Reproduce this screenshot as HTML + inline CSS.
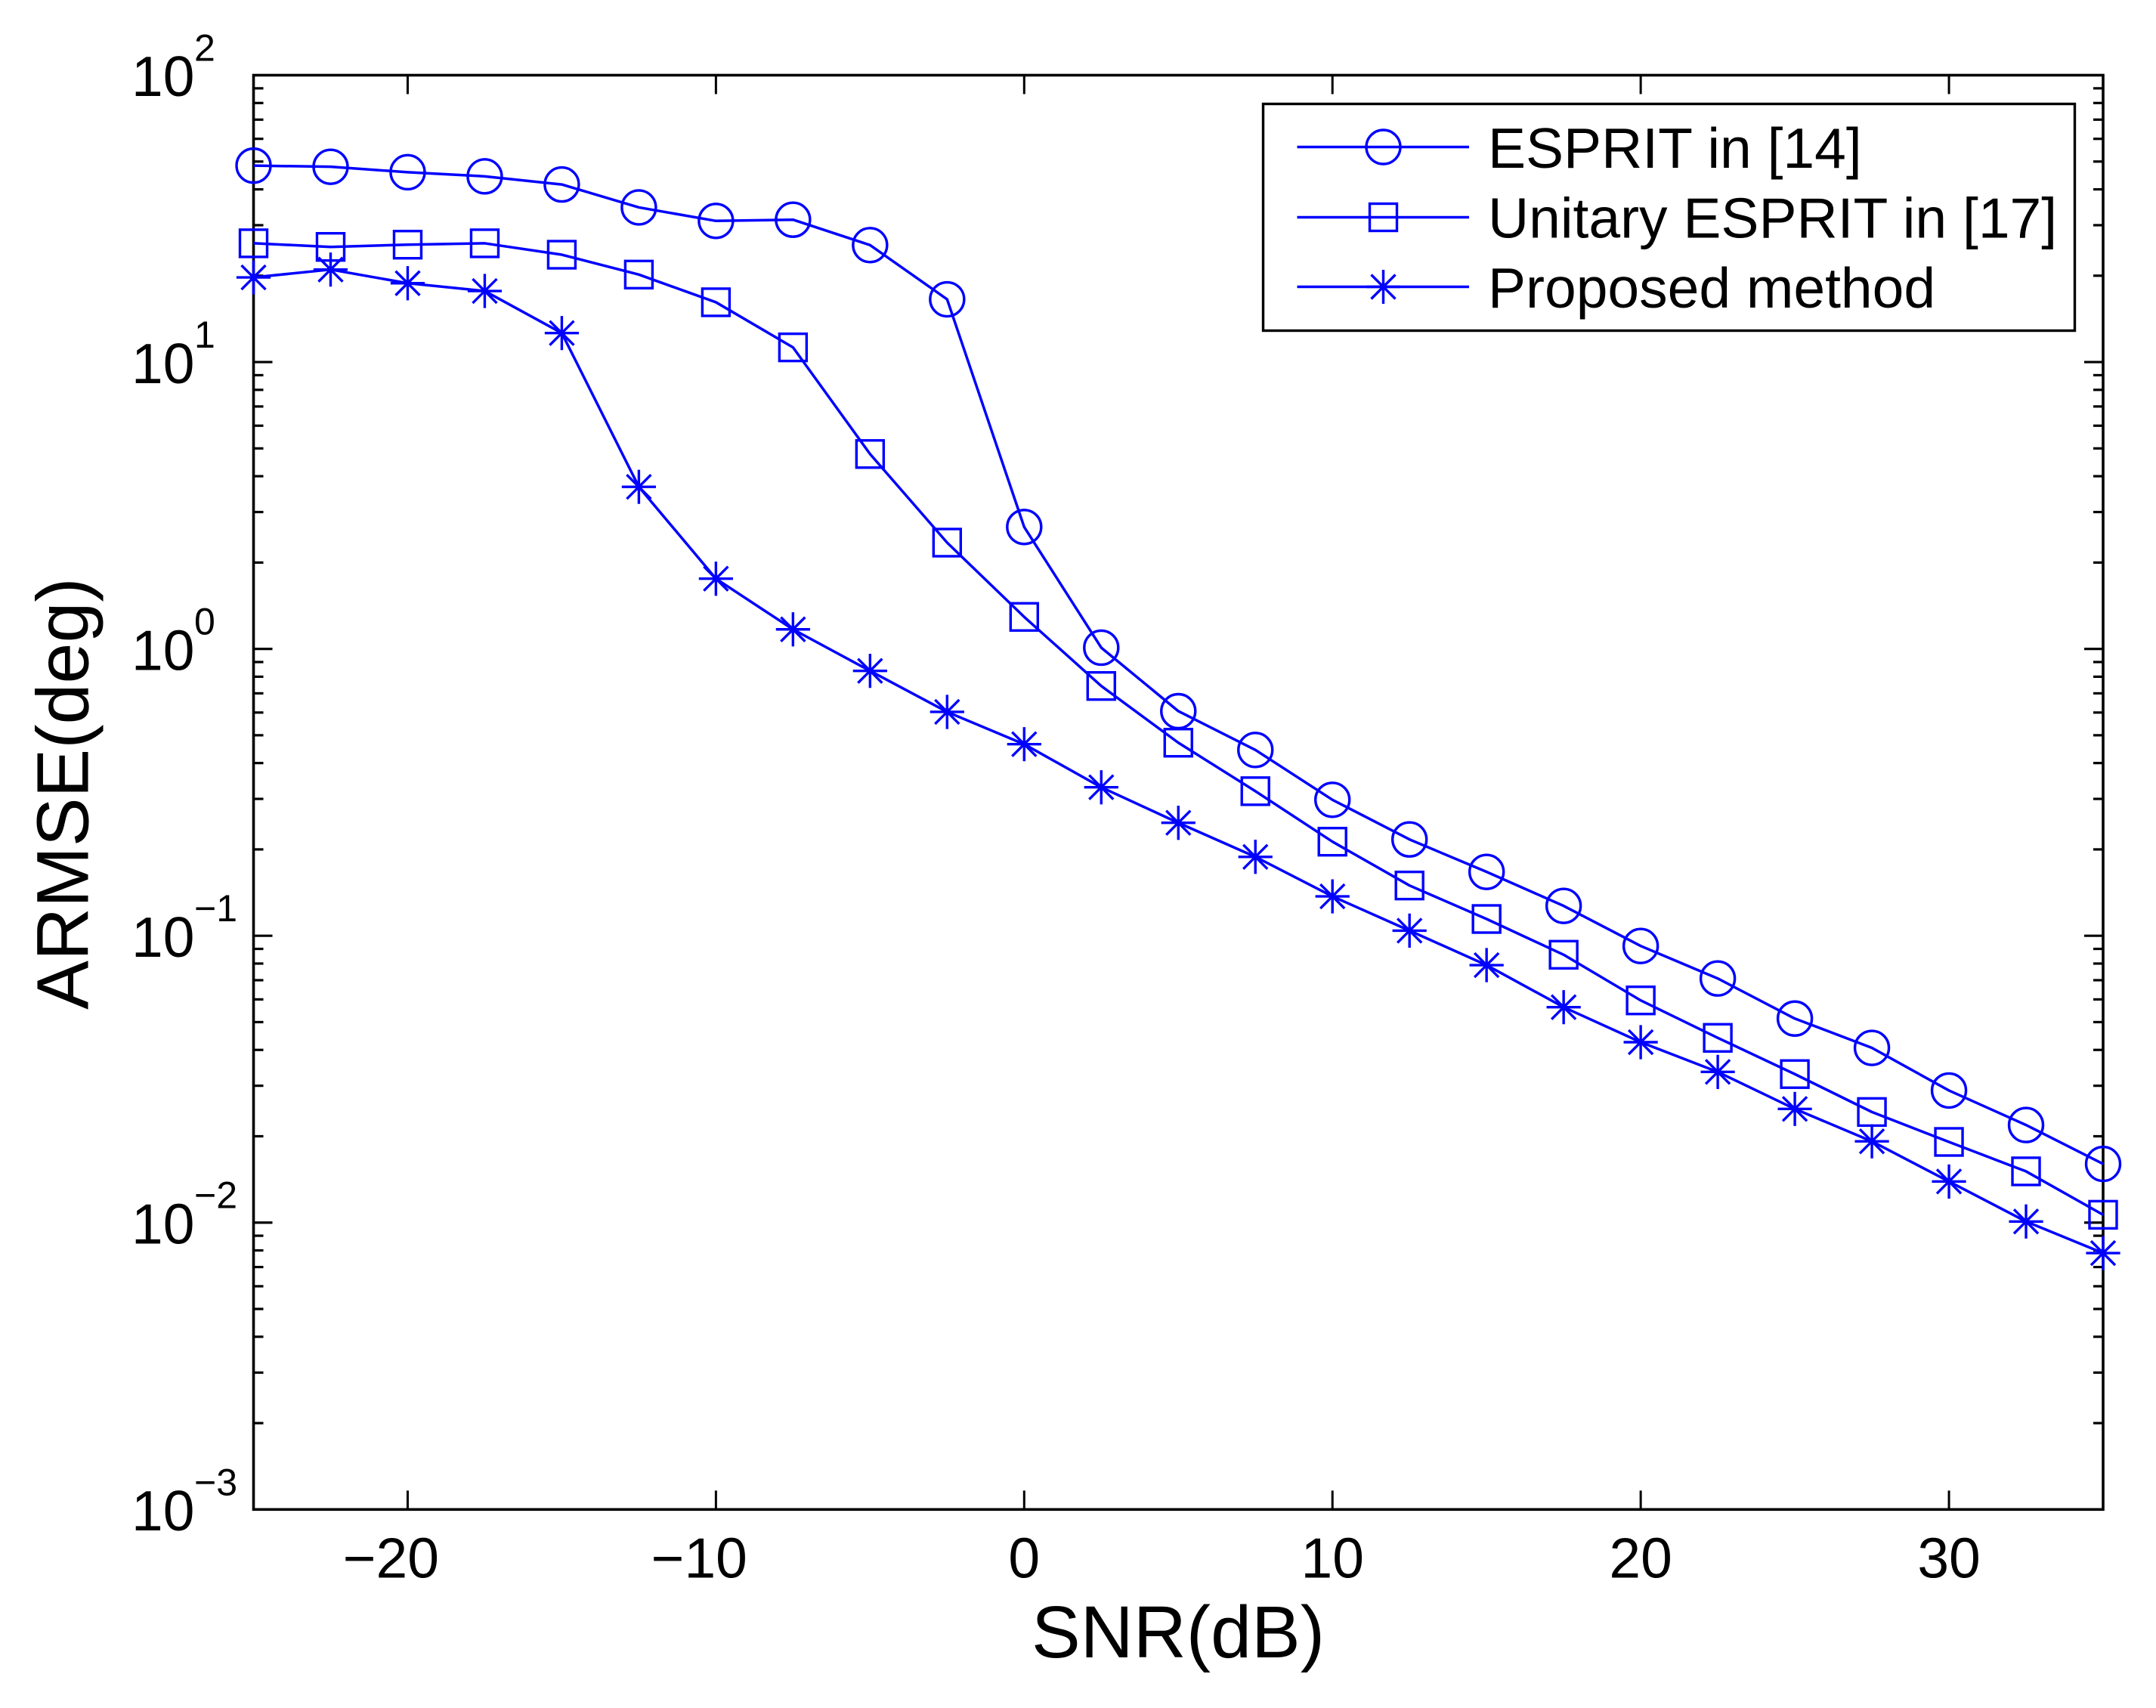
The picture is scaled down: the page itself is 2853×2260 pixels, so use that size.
<!DOCTYPE html>
<html lang="en">
<head>
<meta charset="utf-8">
<title>ARMSE vs SNR</title>
<style>
  html, body { margin: 0; padding: 0; background: #fff; }
  svg { display: block; }
  text { font-family: "Liberation Sans", Arial, sans-serif; fill: #000; }
  .major { font-size: 75px; }
  .sup { font-size: 50px; }
  .title { font-size: 97px; }
</style>
</head>
<body>
<svg id="chart" xmlns="http://www.w3.org/2000/svg" width="2853" height="2260" viewBox="0 0 2853 2260">
  <rect x="0" y="0" width="2853" height="2260" fill="#fff"/>
  <g id="axes"></g>
  <g id="series"></g>
  <text class="title" x="1559" y="2193" text-anchor="middle">SNR(dB)</text>
  <text class="title" transform="translate(116.5 1050) rotate(-90)" text-anchor="middle">ARMSE(deg)</text>
  <g>
    <rect x="1671.5" y="137.5" width="1074" height="300" fill="#fff" stroke="#000" stroke-width="3.4"/>
    <g>
      <line x1="1716.5" y1="194.5" x2="1944" y2="194.5" stroke="#0000ff" stroke-width="3.5"/>
      <circle cx="1830.5" cy="194.5" r="22.5" fill="none" stroke="#0000ff" stroke-width="3.4"/>
      <text class="major" x="1969" y="222">ESPRIT in [14]</text>
    </g>
    <g>
      <line x1="1716.5" y1="287.5" x2="1944" y2="287.5" stroke="#0000ff" stroke-width="3.5"/>
      <rect x="1812.5" y="269.5" width="36" height="36" fill="none" stroke="#0000ff" stroke-width="3.4"/>
      <text class="major" x="1969" y="314.5">Unitary ESPRIT in [17]</text>
    </g>
    <g>
      <line x1="1716.5" y1="379.5" x2="1944" y2="379.5" stroke="#0000ff" stroke-width="3.5"/>
      <path d="M1830.5 357V402M1808 379.5H1853M1814.5 363.5L1846.5 395.5M1846.5 363.5L1814.5 395.5" fill="none" stroke="#0000ff" stroke-width="3.4"/>
      <text class="major" x="1969" y="407">Proposed method</text>
    </g>
  </g>
</svg>
<script>
const snrValues = [-25,-22.5,-20,-17.5,-15,-12.5,-10,-7.5,-5,-2.5,0,2.5,5,7.5,10,12.5,15,17.5,20,22.5,25,27.5,30,32.5,35];
const espritValues = [48.4,47.95,45.9,44.4,41.6,34.6,31.05,31.35,25.57,16.55,2.661,1.01,0.6067,0.4444,0.2978,0.2167,0.167,0.1271,0.09213,0.07097,0.05144,0.04066,0.02888,0.02189,0.01602];
const unitaryValues = [25.94,25.2,25.66,25.94,23.67,20.18,16.16,11.25,4.78,2.347,1.293,0.7426,0.471,0.3192,0.2128,0.1497,0.1144,0.08587,0.05952,0.04406,0.03294,0.0243,0.01911,0.01509,0.01065];
const proposedValues = [19.73,21.01,18.83,17.69,12.62,3.672,1.757,1.17,0.8384,0.6031,0.4654,0.3293,0.2476,0.1884,0.1372,0.1042,0.079,0.05636,0.04256,0.03352,0.02491,0.0192,0.01391,0.01009,0.00783];
const xTickValues = [-20,-10,0,10,20,30];
const xTickLabels = ['\u221220','\u221210','0','10','20','30'];
const yDecades = [2,1,0,-1,-2,-3];
const yExponentLabels = ['2','1','0','\u22121','\u22122','\u22123'];
const minorMultipliers = [2,3,4,5,6,7,8,9];

const SVG_NS = 'http://www.w3.org/2000/svg';
const plotLeft = 335.5, plotRight = 2783, plotTop = 99.5, plotBottom = 1997.3;
const xMin = -25, xMax = 35, yMinExp = -3, yMaxExp = 2;
const BLUE = '#0000ff';

function xScale(v) { return plotLeft + (v - xMin) / (xMax - xMin) * (plotRight - plotLeft); }
function yScale(v) { return plotTop + (yMaxExp - Math.log10(v)) / (yMaxExp - yMinExp) * (plotBottom - plotTop); }
function make(tag, attrs, parent) {
  const el = document.createElementNS(SVG_NS, tag);
  for (const k in attrs) el.setAttribute(k, attrs[k]);
  parent.appendChild(el);
  return el;
}

const axes = document.getElementById('axes');
const seriesRoot = document.getElementById('series');

const frame = make('rect', { x: plotLeft, y: plotTop, width: plotRight - plotLeft, height: plotBottom - plotTop, fill: 'none', stroke: '#000', 'stroke-width': 3.6 }, axes);



xTickValues.forEach(function (v, i) {
  const x = xScale(v);
  const bottomTick = make('line', { x1: x, x2: x, y1: plotBottom, y2: plotBottom - 25, stroke: '#000', 'stroke-width': 3 }, axes);
  
  
  const topTick = make('line', { x1: x, x2: x, y1: plotTop, y2: plotTop + 25, stroke: '#000', 'stroke-width': 3 }, axes);
  
  
  const negative = v < 0;
  const label = make('text', { class: 'major', x: negative ? x + 41.5 : x, y: 2087.5, 'text-anchor': negative ? 'end' : 'middle' }, axes);
  
  
  label.textContent = xTickLabels[i];
});

yDecades.forEach(function (exp, i) {
  const value = Math.pow(10, exp);
  const y = yScale(value);
  if (exp !== yMaxExp && exp !== yMinExp) {
    const leftTick = make('line', { x1: plotLeft, x2: plotLeft + 25, y1: y, y2: y, stroke: '#000', 'stroke-width': 3.2 }, axes);
    
    
    const rightTick = make('line', { x1: plotRight, x2: plotRight - 25, y1: y, y2: y, stroke: '#000', 'stroke-width': 3.2 }, axes);
    
    
  }
  const base = make('text', { class: 'major', x: 174, y: y + 27.7 }, axes);
  
  
  base.textContent = '10';
  const sup = make('text', { class: 'sup', x: 257, y: y - 19 }, axes);
  
  
  sup.textContent = yExponentLabels[i];
  if (exp > yMinExp) {
    minorMultipliers.forEach(function (m) {
      const ym = yScale(value / 10 * m);
      const minorLeft = make('line', { x1: plotLeft, x2: plotLeft + 13, y1: ym, y2: ym, stroke: '#000', 'stroke-width': 3.2 }, axes);
      
      
      const minorRight = make('line', { x1: plotRight, x2: plotRight - 13, y1: ym, y2: ym, stroke: '#000', 'stroke-width': 3.2 }, axes);
      
      
    });
  }
});

function drawLine(values, parent) {
  const pts = values.map(function (v, i) { return xScale(snrValues[i]).toFixed(2) + ',' + yScale(v).toFixed(2); }).join(' ');
  const line = make('polyline', { points: pts, fill: 'none', stroke: BLUE, 'stroke-width': 3.5, 'stroke-linejoin': 'round' }, parent);
  
  
}

const espritGroup = make('g', {}, seriesRoot);


drawLine(espritValues, espritGroup);
espritValues.forEach(function (v, i) {
  const c = make('circle', { cx: xScale(snrValues[i]), cy: yScale(v), r: 22.5, fill: 'none', stroke: BLUE, 'stroke-width': 3.4 }, espritGroup);
  
  
});

const unitaryGroup = make('g', {}, seriesRoot);


drawLine(unitaryValues, unitaryGroup);
unitaryValues.forEach(function (v, i) {
  const s = make('rect', { x: xScale(snrValues[i]) - 18, y: yScale(v) - 18, width: 36, height: 36, fill: 'none', stroke: BLUE, 'stroke-width': 3.4 }, unitaryGroup);
  
  
});

const proposedGroup = make('g', {}, seriesRoot);


drawLine(proposedValues, proposedGroup);
proposedValues.forEach(function (v, i) {
  const cx = xScale(snrValues[i]);
  const cy = yScale(v);
  const a = 22.6, b = 16;
  const d = 'M' + cx + ' ' + (cy - a) + 'V' + (cy + a) +
            'M' + (cx - a) + ' ' + cy + 'H' + (cx + a) +
            'M' + (cx - b) + ' ' + (cy - b) + 'L' + (cx + b) + ' ' + (cy + b) +
            'M' + (cx + b) + ' ' + (cy - b) + 'L' + (cx - b) + ' ' + (cy + b);
  const star = make('path', { d: d, fill: 'none', stroke: BLUE, 'stroke-width': 3.4 }, proposedGroup);
  
  
});
</script>
</body>
</html>
